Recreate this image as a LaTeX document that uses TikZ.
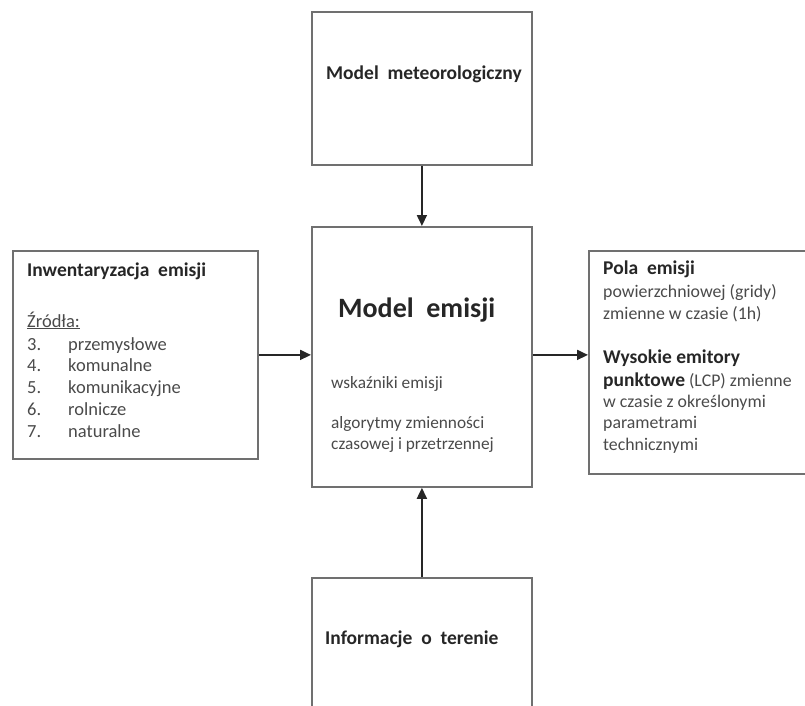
\documentclass[tikz,border=0pt]{standalone}
\usepackage{fontspec}
\setmainfont{Carlito}
\usetikzlibrary{arrows.meta}
\definecolor{ramka}{HTML}{707070}
\definecolor{tekst}{HTML}{4A4A4A}
\definecolor{naglowek}{HTML}{262626}
\tikzset{
  blok/.style={draw=ramka, line width=1.8pt, anchor=north west, inner sep=0pt},
  opis/.style={anchor=base west, inner sep=0pt, text=tekst, font=\fontsize{18.5}{21}\selectfont},
  tytul/.style={opis, text=naglowek, font=\fontsize{19.5}{21}\selectfont\bfseries},
  strzalka/.style={draw=black!85, line width=1.8pt, -{Triangle[length=11pt,width=10pt]}}
}
\begin{document}
\begin{tikzpicture}[x=1pt,y=-1pt]
\useasboundingbox (0,0) rectangle (805,706);
\clip (0,0) rectangle (805,706);
% bloki
\node[blok, minimum width=220pt, minimum height=153pt] (meteo) at (311,11) {};
\node[blok, minimum width=220pt, minimum height=260pt] (emisja) at (311,226) {};
\node[blok, minimum width=220pt, minimum height=160pt] (teren) at (311,577) {};
\node[blok, minimum width=245pt, minimum height=208pt] (inwent) at (12,250) {};
\node[blok, minimum width=240pt, minimum height=223pt] (pola) at (588,250) {};
% strzalki
\draw[strzalka] (meteo.south) -- (emisja.north);
\draw[strzalka] (teren.north) -- (emisja.south);
\draw[strzalka] (inwent.east) -- (inwent.east -| emisja.west);
\coordinate (wyjscie) at (emisja.east |- inwent.east);
\draw[strzalka] (wyjscie) -- (wyjscie -| pola.west);
% teksty
\node[tytul] (meteo-tyt) at (326,80) {Model\ \ meteorologiczny};
\node[tytul] (teren-tyt) at (325,644) {Informacje\ \ o\ \ terenie};
\node[tytul, font=\fontsize{28}{32}\selectfont\bfseries] (emisja-tyt) at (338,317) {Model\ \ emisji};
\node[opis, font=\fontsize{17.3}{20}\selectfont] (wskazniki) at (331,388) {wskaźniki emisji};
\node[opis, font=\fontsize{17.3}{20}\selectfont] (algorytmy1) at (331,428) {algorytmy zmienności};
\node[opis, font=\fontsize{17.3}{20}\selectfont] (algorytmy2) at (331,449) {czasowej i przetrzennej};
\node[tytul] (inwent-tyt) at (27,276) {Inwentaryzacja\ \ emisji};
\node[opis] (zrodla) at (27,327) {\underline{Źródła:}};
\foreach \nr/\nazwa [count=\i] in {3/przemysłowe,4/komunalne,5/komunikacyjne,6/rolnicze,7/naturalne}{
  \node[opis] (nr\i) at (27,{350+(\i-1)*21.8}) {\nr.};
  \node[opis] (zr\i) at (68,{350+(\i-1)*21.8}) {\nazwa};
}
\node[tytul] (pola-tyt) at (603,274) {Pola\ \ emisji};
\node[opis, font=\fontsize{17.8}{21}\selectfont] (pola1) at (603,297) {powierzchniowej (gridy)};
\node[opis, font=\fontsize{17.8}{21}\selectfont] (pola2) at (603,319) {zmienne w czasie (1h)};
\node[tytul] (wysokie-tyt) at (603,363) {Wysokie emitory};
\node[opis, font=\fontsize{17.8}{21}\selectfont] (wysokie1) at (603,386) {\textcolor{naglowek}{\fontsize{19.5}{21}\selectfont\bfseries punktowe} (LCP) zmienne};
\node[opis, font=\fontsize{17.8}{21}\selectfont] (wysokie2) at (603,407) {w czasie z określonymi};
\node[opis, font=\fontsize{17.8}{21}\selectfont] (wysokie3) at (603,428) {parametrami};
\node[opis, font=\fontsize{17.8}{21}\selectfont] (wysokie4) at (603,450) {technicznymi};
\end{tikzpicture}
\end{document}
